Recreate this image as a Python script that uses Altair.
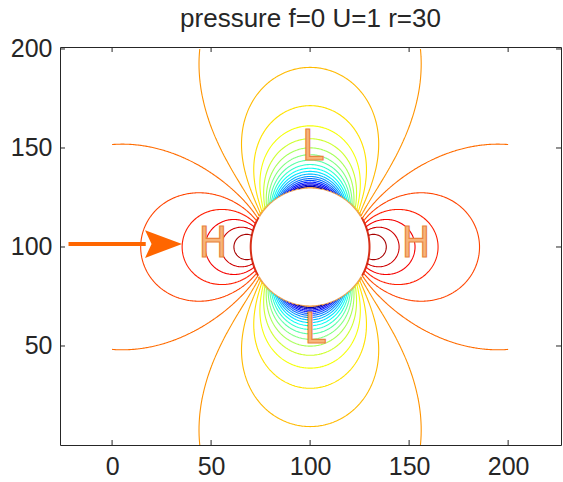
import numpy as np
import pandas as pd
import altair as alt
from collections import defaultdict

# ---------------- values ----------------
title_text = "pressure f=0 U=1 r=30"
U = 1.0                      # free-stream speed
RADIUS = 30.0                # cylinder radius
CENTER = [100.0, 100.0]      # cylinder centre
grid_lim = [0.0, 200.0]      # extent of the computed field (both axes)
grid_step = 0.5
# contour levels (25 equally spaced levels between the min and max pressure)
levels = [-1.4231, -1.3462, -1.2692, -1.1923, -1.1154, -1.0385, -0.9615,
          -0.8846, -0.8077, -0.7308, -0.6538, -0.5769, -0.5000, -0.4231,
          -0.3462, -0.2692, -0.1923, -0.1154, -0.0385, 0.0385, 0.1154,
          0.1923, 0.2692, 0.3462, 0.4231]
p_range = [-1.5, 0.5]        # colour limits (jet colormap)
x_ticks = [0, 50, 100, 150, 200]
y_ticks = [50, 100, 150, 200]
x_domain = [-26.3, 226.7]
y_domain = [0.0, 201.0]
label_text = ["H", "H", "L", "L"]
label_x = [51.0, 153.5, 101.3, 102.5]
label_y = [94.9, 94.9, 143.9, 51.5]
arrow_shaft_x = [-22.0, 17.0]
arrow_y = 101.5
arrow_head_x = 26.0

# ---------------- pressure field ----------------
gx = np.arange(grid_lim[0], grid_lim[1] + grid_step / 2, grid_step)
gy = np.arange(grid_lim[0], grid_lim[1] + grid_step / 2, grid_step)
GX, GY = np.meshgrid(gx, gy)
Z = (GX - CENTER[0]) + 1j * (GY - CENTER[1])
with np.errstate(all="ignore"):
    W = U * (1 - RADIUS ** 2 / Z ** 2)
    P = 0.5 * (U ** 2 - np.abs(W) ** 2)
P = np.where(np.isfinite(P), P, -1e6)


def contour_chains(P, xs, ys, lvl):
    B = P > lvl
    Bi = B.astype(int)
    c = Bi[:-1, :-1] | (Bi[:-1, 1:] << 1) | (Bi[1:, 1:] << 2) | (Bi[1:, :-1] << 3)
    ii, jj = np.nonzero((c != 0) & (c != 15))
    adj = defaultdict(list)
    for i, j in zip(ii, jj):
        b0, b1, b2, b3 = B[i, j], B[i, j + 1], B[i + 1, j + 1], B[i + 1, j]
        e = [("h", i, j), ("v", i, j + 1), ("h", i + 1, j), ("v", i, j)]
        cross = [b0 != b1, b1 != b2, b3 != b2, b0 != b3]
        ks = [e[k] for k in range(4) if cross[k]]
        if len(ks) == 2:
            segs = [(ks[0], ks[1])]
        else:
            cen = (P[i, j] + P[i, j + 1] + P[i + 1, j + 1] + P[i + 1, j]) / 4
            if (cen > lvl) == b0:
                segs = [(e[0], e[1]), (e[2], e[3])]
            else:
                segs = [(e[0], e[3]), (e[1], e[2])]
        for a, b in segs:
            adj[a].append(b)
            adj[b].append(a)

    def pt(key):
        kind, i, j = key
        if kind == "h":
            va, vb = P[i, j], P[i, j + 1]
            t = (lvl - va) / (vb - va)
            return xs[j] + t * (xs[j + 1] - xs[j]), ys[i]
        va, vb = P[i, j], P[i + 1, j]
        t = (lvl - va) / (vb - va)
        return xs[j], ys[i] + t * (ys[i + 1] - ys[i])

    visited = set()

    def walk(start):
        chain = [start]
        visited.add(start)
        cur = start
        while True:
            nxt = [n for n in adj[cur] if n not in visited]
            if not nxt:
                if len(chain) > 2 and start in adj[cur]:
                    chain.append(start)
                break
            cur = nxt[0]
            visited.add(cur)
            chain.append(cur)
        return chain

    chains = []
    for k in list(adj.keys()):
        if len(adj[k]) == 1 and k not in visited:
            chains.append(walk(k))
    for k in list(adj.keys()):
        if k not in visited:
            chains.append(walk(k))
    return [[pt(k) for k in ch] for ch in chains]


def clip_outside(pts):
    out, cur, prev = [], [], None
    for (x, y) in pts:
        r = np.hypot(x - CENTER[0], y - CENTER[1])
        inside = not (r >= RADIUS)
        if prev is not None:
            px_, py_, pr, pin = prev
            if pin != inside and np.isfinite(r) and np.isfinite(pr):
                t = (pr - RADIUS) / (pr - r)
                cur.append((px_ + t * (x - px_), py_ + t * (y - py_)))
        if inside:
            if len(cur) > 1:
                out.append(cur)
            cur = []
        else:
            cur.append((x, y))
        prev = (x, y, r, inside)
    if len(cur) > 1:
        out.append(cur)
    return out


def jet(t):
    t = min(max(t, 0.0), 1.0)
    r = min(max(1.5 - abs(4 * t - 3), 0), 1)
    g = min(max(1.5 - abs(4 * t - 2), 0), 1)
    b = min(max(1.5 - abs(4 * t - 1), 0), 1)
    return "#%02x%02x%02x" % (int(round(r * 255)), int(round(g * 255)), int(round(b * 255)))


rows = []
line_id = 0
for li, lvl in enumerate(levels):
    for ch in contour_chains(P, gx, gy, lvl):
        for piece in clip_outside(ch):
            for o, (x, y) in enumerate(piece):
                rows.append((round(float(x), 2), round(float(y), 2), li, line_id, o))
            line_id += 1
df = pd.DataFrame(rows, columns=["x", "y", "lvl", "line", "ord"])
level_colors = [jet((l - p_range[0]) / (p_range[1] - p_range[0])) for l in levels]

# cylinder rim, split into top/bottom arcs and side arcs
ang = np.linspace(0, 2 * np.pi, 361)
rim = pd.DataFrame({
    "x": CENTER[0] + RADIUS * np.cos(ang),
    "y": CENTER[1] + RADIUS * np.sin(ang),
    "tb": np.abs(np.sin(ang)) > 0.5,
    "ord": np.arange(len(ang)),
})
rim["arc"] = (rim["tb"] != rim["tb"].shift()).cumsum()
rim_tb = rim[rim["tb"]]
rim_side = rim[~rim["tb"]]

# ---------------- chart ----------------
WIDTH, HEIGHT = 501, 398
FONT = "Liberation Sans"
INK = "#262626"
xs = alt.Scale(domain=x_domain, nice=False, zero=False)
ys = alt.Scale(domain=y_domain, nice=False, zero=False)

x_axis = alt.Axis(values=x_ticks, ticks=False, domain=False, grid=False, title=None,
                  labelFont=FONT, labelFontSize=25, labelColor=INK, labelPadding=9,
                  labelFlush=False)
y_axis = alt.Axis(values=y_ticks, ticks=False, domain=False, grid=False, title=None,
                  labelFont=FONT, labelFontSize=25, labelColor=INK, labelPadding=8,
                  labelFlush=False)


def X(field):
    return alt.X(field, scale=xs, axis=x_axis)


def Y(field):
    return alt.Y(field, scale=ys, axis=y_axis)


rim_tb_layer = alt.Chart(rim_tb).mark_line(strokeWidth=2, color="#eea050").encode(
    x=X("x:Q"), y=Y("y:Q"), detail="arc:N", order="ord:Q")
rim_side_layer = alt.Chart(rim_side).mark_line(strokeWidth=2, color="#d83018").encode(
    x=X("x:Q"), y=Y("y:Q"), detail="arc:N", order="ord:Q")

contour_layer = alt.Chart(df).mark_line(strokeWidth=1.1, clip=True).encode(
    x=X("x:Q"), y=Y("y:Q"),
    color=alt.Color("lvl:O", scale=alt.Scale(domain=list(range(len(levels))), range=level_colors),
                    legend=None),
    detail="line:N",
    order="ord:Q",
)

lab = pd.DataFrame({"x": label_x, "y": label_y, "t": label_text})
label_layer = alt.Chart(lab).mark_text(
    font="'Liberation Sans Narrow', 'DejaVu Sans Condensed', 'Liberation Sans', sans-serif",
    fontSize=42, fill="#f7b47a", stroke="#e8843e", strokeWidth=1.2,
    align="center", baseline="alphabetic",
).encode(x=X("x:Q"), y=Y("y:Q"), text="t:N")

shaft = pd.DataFrame({"x": [arrow_shaft_x[0]], "x2": [arrow_shaft_x[1]], "y": [arrow_y]})
shaft_layer = alt.Chart(shaft).mark_rule(color="#ff6600", strokeWidth=4).encode(
    x=X("x:Q"), x2="x2:Q", y=Y("y:Q"))
head = pd.DataFrame({"x": [arrow_head_x], "y": [arrow_y]})
head_layer = alt.Chart(head).mark_point(
    shape="M-1,-0.75L1,0L-1,0.75L-0.65,0Z", size=1369, filled=True, color="#ff6600", opacity=1
).encode(x=X("x:Q"), y=Y("y:Q"))

xt = pd.DataFrame({"x": x_ticks})
yt = pd.DataFrame({"y": y_ticks})
tick_b = alt.Chart(xt).mark_rule(color=INK, strokeWidth=1).encode(
    x=X("x:Q"), y=alt.value(HEIGHT), y2=alt.value(HEIGHT - 5))
tick_t = alt.Chart(xt).mark_rule(color=INK, strokeWidth=1).encode(
    x=X("x:Q"), y=alt.value(0), y2=alt.value(5))
tick_l = alt.Chart(yt).mark_rule(color=INK, strokeWidth=1).encode(
    y=Y("y:Q"), x=alt.value(0), x2=alt.value(5))
tick_r = alt.Chart(yt).mark_rule(color=INK, strokeWidth=1).encode(
    y=Y("y:Q"), x=alt.value(WIDTH), x2=alt.value(WIDTH - 5))

title_df = pd.DataFrame({"t": [title_text]})
title_layer = alt.Chart(title_df).mark_text(
    font=FONT, fontSize=26, color=INK, align="center", baseline="alphabetic"
).encode(x=alt.value(WIDTH / 2), y=alt.value(-20), text="t:N")

chart = alt.layer(
    rim_tb_layer, rim_side_layer, contour_layer, label_layer, shaft_layer, head_layer,
    tick_b, tick_t, tick_l, tick_r, title_layer,
).properties(
    width=WIDTH, height=HEIGHT,
    autosize=alt.AutoSizeParams(type="none"),
    padding={"left": 60, "top": 47, "right": 2, "bottom": 37},
    background="white",
).configure_view(stroke=INK, strokeWidth=1)

chart.save("out.html", embed_options={"renderer": "svg", "actions": False})
